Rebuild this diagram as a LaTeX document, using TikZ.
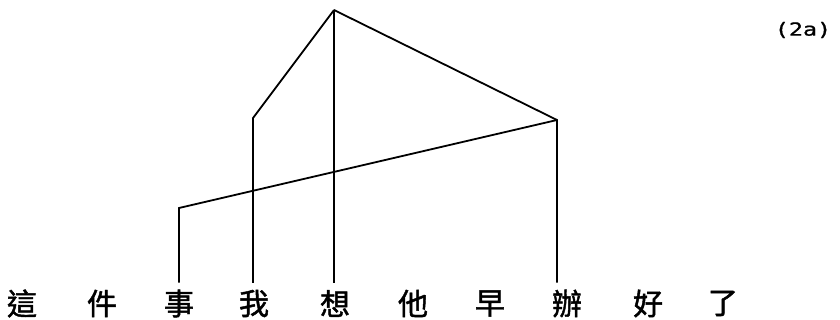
\documentclass[tikz,border=0pt]{standalone}
\usepackage{fontspec}
\newfontfamily\cjk{Noto Sans CJK TC}[FakeBold=1.5]
\newfontfamily\labfont{DejaVu Sans Mono}[FakeStretch=1.3,FakeBold=1]
\begin{document}
\begin{tikzpicture}[x=1pt,y=-1pt,
  word/.style={font=\cjk\fontsize{30}{30}\selectfont, inner xsep=0pt, inner ysep=7pt, outer sep=0pt},
  tree/.style={line width=1.8pt, line join=miter, line cap=butt}]
\useasboundingbox (0,0) rectangle (840,320);
\node[word] (w1)  at (22,303.5)  {這};
\node[word] (w2)  at (102,303.5) {件};
\node[word] (w3)  at (179,303.5) {事};
\node[word] (w4)  at (254,303.5) {我};
\node[word] (w5)  at (335,303.5) {想};
\node[word] (w6)  at (413,303.5) {他};
\node[word] (w7)  at (490,303.5) {早};
\node[word] (w8)  at (567,303.5) {辦};
\node[word] (w9)  at (648,303.5) {好};
\node[word] (w10) at (723,303.5) {了};
\coordinate (top) at (334,10);
\coordinate (wo)  at (253,118);
\coordinate (ban) at (557,120);
\coordinate (shi) at (179,208);
\draw[tree] (top) -- (wo) -- (wo |- w4.north);
\draw[tree] (top) -- (top |- w5.north);
\draw[tree] (top) -- (ban) -- (ban |- w8.north);
\draw[tree] (ban) -- (shi) -- (shi |- w3.north);
\node[font=\labfont\fontsize{18}{18}\selectfont, inner sep=0pt] (lab) at (803,30) {(2a)};
\end{tikzpicture}
\end{document}
